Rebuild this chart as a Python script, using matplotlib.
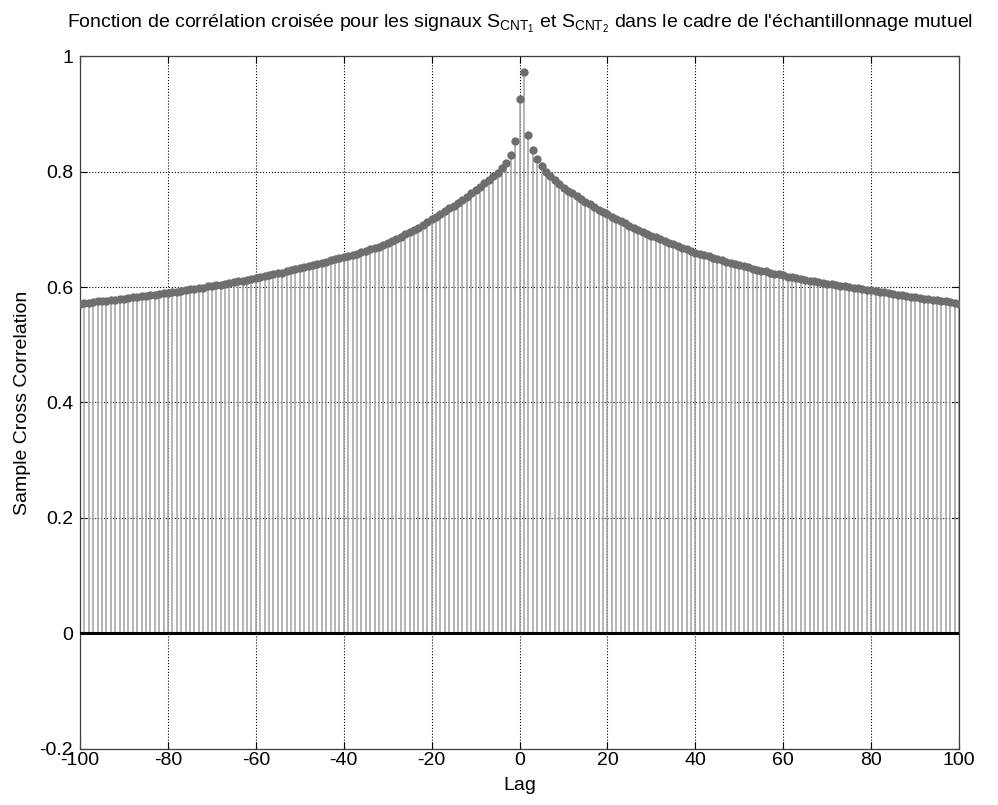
import matplotlib.pyplot as plt
import numpy as np

plt.rcParams['font.family'] = ['Liberation Sans', 'DejaVu Sans']
plt.rcParams['mathtext.fontset'] = 'custom'
plt.rcParams['mathtext.rm'] = 'Liberation Sans'
plt.rcParams['mathtext.it'] = 'Liberation Sans'

# lags -100..100
lags = list(range(-100, 101))

# cross-correlation values, lags -100..-1
xcf_neg = [
    0.571, 0.572, 0.573, 0.574, 0.575, 0.576, 0.576, 0.577, 0.578, 0.579, 0.580,
    0.581, 0.582, 0.583, 0.584, 0.585, 0.586, 0.587, 0.588, 0.589, 0.590,
    0.591, 0.592, 0.593, 0.594, 0.596, 0.597, 0.598, 0.599, 0.601, 0.602,
    0.603, 0.604, 0.606, 0.607, 0.608, 0.610, 0.611, 0.613, 0.614, 0.616,
    0.617, 0.619, 0.620, 0.622, 0.624, 0.625, 0.627, 0.629, 0.631, 0.633,
    0.635, 0.636, 0.638, 0.640, 0.642, 0.644, 0.646, 0.648, 0.650, 0.652,
    0.654, 0.656, 0.658, 0.661, 0.663, 0.665, 0.668, 0.670, 0.673, 0.677,
    0.680, 0.684, 0.687, 0.691, 0.695, 0.699, 0.703, 0.708, 0.713, 0.718,
    0.722, 0.727, 0.731, 0.736, 0.740, 0.745, 0.750, 0.756, 0.762, 0.768,
    0.774, 0.780, 0.786, 0.792, 0.798, 0.806, 0.815, 0.829, 0.852,
]
# lags 0..100
xcf_pos = [
    0.925, 0.972, 0.863, 0.837, 0.821, 0.809, 0.800, 0.792, 0.785, 0.778, 0.772,
    0.767, 0.762, 0.757, 0.752, 0.748, 0.743, 0.739, 0.734, 0.730, 0.726,
    0.722, 0.718, 0.714, 0.710, 0.706, 0.702, 0.699, 0.695, 0.692, 0.689,
    0.686, 0.683, 0.680, 0.677, 0.674, 0.671, 0.668, 0.665, 0.662, 0.659,
    0.657, 0.655, 0.653, 0.650, 0.648, 0.646, 0.644, 0.642, 0.640, 0.638,
    0.636, 0.634, 0.632, 0.630, 0.628, 0.627, 0.625, 0.623, 0.622, 0.620,
    0.618, 0.617, 0.615, 0.614, 0.613, 0.611, 0.610, 0.609, 0.607, 0.606,
    0.605, 0.604, 0.602, 0.601, 0.600, 0.599, 0.598, 0.597, 0.595, 0.594,
    0.593, 0.592, 0.591, 0.589, 0.588, 0.587, 0.586, 0.585, 0.583, 0.582,
    0.581, 0.580, 0.579, 0.578, 0.577, 0.576, 0.575, 0.574, 0.572, 0.571,
]
xcf = xcf_neg + xcf_pos

xticks = [-100, -80, -60, -40, -20, 0, 20, 40, 60, 80, 100]
yticks = [-0.2, 0, 0.2, 0.4, 0.6, 0.8, 1]
ytick_labels = ['-0.2', '0', '0.2', '0.4', '0.6', '0.8', '1']

fig = plt.figure(figsize=(9.98, 8.05), dpi=100)
ax = fig.add_axes([0.0802, 0.0696, 0.8808, 0.8608])

# stems + markers, MATLAB style
ax.vlines(lags, 0, xcf, colors='#a0a0a0', linewidth=1.1, zorder=2)
ax.plot(lags, xcf, 'o', color='#6e6e6e', markersize=6, markeredgewidth=0, zorder=3)
ax.axhline(0, color='black', linewidth=2.2, zorder=4)

ax.set_xlim(-100, 100)
ax.set_ylim(-0.2, 1)
ax.set_xticks(xticks)
ax.set_xticklabels([str(t) for t in xticks])
ax.set_yticks(yticks)
ax.set_yticklabels(ytick_labels)
ax.tick_params(direction='in', top=True, right=True, labelsize=14, length=5,
               width=0.8, pad=2)
ax.tick_params(axis='y', pad=5)
ax.grid(True, linestyle=':', color='black', linewidth=0.8)
ax.set_axisbelow(True)
for s in ax.spines.values():
    s.set_color('#404040')
    s.set_linewidth(0.9)

ax.set_xlabel('Lag', fontsize=14, labelpad=6)
ax.set_ylabel('Sample Cross Correlation', fontsize=14, labelpad=6)
ax.set_title(r"Fonction de corrélation croisée pour les signaux "
             r"$\mathregular{S_{CNT_1}}$ et $\mathregular{S_{CNT_2}}$"
             r" dans le cadre de l'échantillonnage mutuel",
             fontsize=14, pad=20)

fig.savefig('out.png', dpi=100)
